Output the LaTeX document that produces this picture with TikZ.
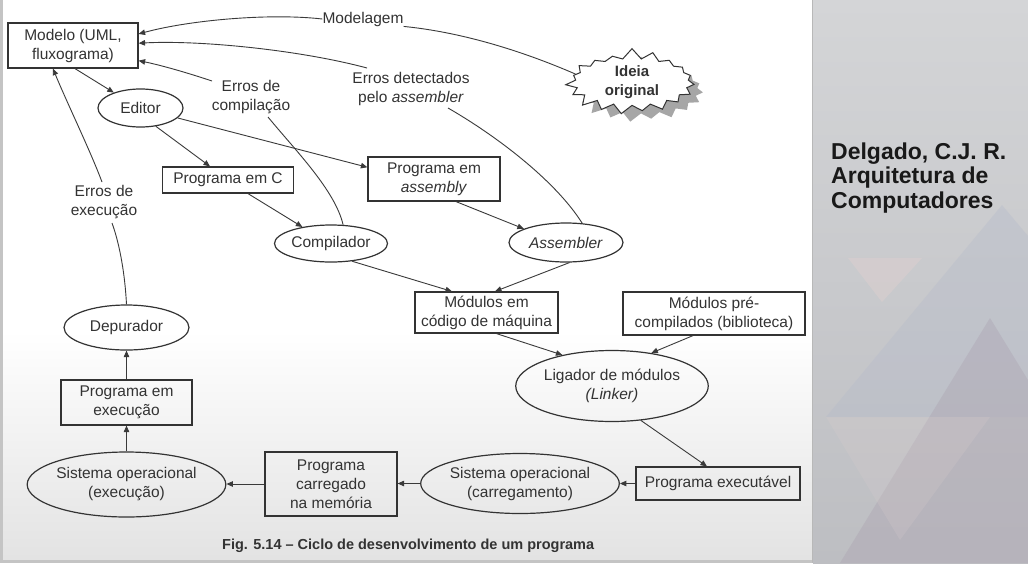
\documentclass[tikz,border=0pt]{standalone}
\usepackage{fontspec}
\setmainfont{Liberation Sans}
\usetikzlibrary{arrows.meta,shapes.geometric,shapes.symbols,shadows}
\definecolor{inkc}{HTML}{333333}
\definecolor{linec}{HTML}{3A3A3A}
\definecolor{framec}{HTML}{C4C4C4}
\definecolor{paneltop}{HTML}{D4D5D7}
\definecolor{panelbot}{HTML}{BDBEC2}
\definecolor{tripink}{HTML}{DCCFCF}
\definecolor{triblue}{HTML}{B4BACA}
\definecolor{tripurp}{HTML}{A99FAE}
\begin{document}
\begin{tikzpicture}[x=1pt,y=-1pt,
  txt/.style={font=\fontsize{15.5}{19}\selectfont, text=inkc, align=center, inner sep=0pt},
  box/.style={txt, draw=inkc, line width=1.2pt, rectangle},
  ell/.style={txt, draw=inkc, line width=1.2pt, ellipse},
  lbl/.style={txt},
  arr/.style={draw=linec, line width=0.9pt, -{Triangle[length=6.5pt,width=5.5pt]}},
  ln/.style={draw=linec, line width=0.9pt},
]
\useasboundingbox (0,0) rectangle (1028,563);
% background
\fill[framec] (0,0) rectangle (1028,563);
\fill[white] (3,0) rectangle (812,330);
\shade[top color=white, bottom color=black!11] (3,330) rectangle (812,559);
\shade[top color=paneltop, bottom color=panelbot] (813,0) rectangle (1028,563);
\begin{scope}
\clip (813,0) rectangle (1028,563);
\fill[triblue, opacity=0.35] (826,417) -- (1002,205) -- (1180,417) -- cycle;
\fill[tripink, opacity=0.55] (848,258) -- (922,258) -- (882,302) -- cycle;
\fill[tripurp, opacity=0.35] (990,318) -- (1140,563) -- (840,563) -- cycle;
\fill[tripink, opacity=0.2] (826,417) -- (990,417) -- (900,540) -- cycle;
\end{scope}
\draw[black!28, line width=1.5pt] (812.5,0) -- (812.5,563);

% nodes
\node[box, minimum width=130pt, minimum height=45pt] (modelo) at (73,45.5) {Modelo (UML,\\fluxograma)};
\node[ell, minimum width=85pt, minimum height=38pt] (editor) at (140.5,108) {Editor};
\node[box, minimum width=131pt, minimum height=26pt] (progc) at (228,180) {Programa em C};
\node[box, minimum width=132pt, minimum height=44pt] (asm) at (434,179) {Programa em\\\textit{assembly}};
\node[ell, minimum width=113pt, minimum height=37pt] (comp) at (331,243.5) {Compilador};
\node[ell, minimum width=114pt, minimum height=39pt] (assem) at (566,242.5) {\textit{Assembler}};
\node[box, minimum width=143pt, minimum height=41pt] (modc) at (486.5,312.5) {Módulos em\\código de máquina};
\node[box, minimum width=182pt, minimum height=43pt] (pre) at (714,313.5) {Módulos pré-\\compilados (biblioteca)};
\node[ell, minimum width=170pt, minimum height=71pt] (lig) at (612,386) {Ligador de módulos\\\textit{(Linker)}};
\node[box, minimum width=164pt, minimum height=33pt] (exe) at (718,483.5) {Programa executável};
\node[ell, minimum width=161pt, minimum height=60pt] (soc) at (520,483.5) {Sistema operacional\\(carregamento)};
\node[box, minimum width=132pt, minimum height=64pt] (pcm) at (331,484) {Programa\\carregado\\na memória};
\node[ell, minimum width=153pt, minimum height=65pt] (soe) at (126.5,484.5) {Sistema operacional\\(execução)};
\node[box, minimum width=131pt, minimum height=45pt] (pex) at (126.5,402.5) {Programa em\\execução};
\node[ell, minimum width=125pt, minimum height=45pt] (dep) at (126.5,327.5) {Depurador};

\node[starburst, starburst points=19, starburst point height=11pt, random starburst=7,
      minimum width=135pt, minimum height=52pt, draw=inkc, fill=white, line width=1pt,
      drop shadow={shadow xshift=9pt, shadow yshift=-8pt, fill=black!35, opacity=1},
      font=\bfseries\fontsize{15}{19}\selectfont, text=inkc, align=center, inner sep=0pt]
      (idea) at (632,82) {Ideia\\original};

% labels
\node[lbl] (mdlg) at (363,19) {Modelagem};
\node[lbl] (ec) at (251,97.5) {Erros de\\compilação};
\node[lbl] (ed) at (411,89) {Erros detectados\\pelo \textit{assembler}};
\node[lbl] (ee) at (104,202.5) {Erros de\\execução};
\coordinate (ee1) at (112,223);
\coordinate (ee2) at (102,182);
\coordinate (ec1) at (212,81);
\coordinate (ec2) at (268,117);
\coordinate (ed1) at (367,68);
\coordinate (ed2) at (448,108);

\node[font=\bfseries\fontsize{14.5}{16}\selectfont, text=inkc, anchor=west, inner sep=0pt] (cap) at (222,546) {Fig. 5.14 – Ciclo de desenvolvimento de um programa};
\node[font=\bfseries\fontsize{23}{24.5}\selectfont, text=black!90, align=left, anchor=north west, inner sep=0pt] (ref) at (831,142.5) {Delgado, C.J. R.\\Arquitetura de\\Computadores};

% connectors
\draw[arr] ([xshift=2pt]modelo.south) -- (editor.150);
\draw[arr] (editor.-50) -- ([xshift=-18pt]progc.north);
\draw[arr] (editor.-15) -- (asm.170);
\draw[arr] ([xshift=20pt]progc.south) -- (comp.150);
\draw[arr] ([xshift=22pt]asm.south) -- (assem.162);
\draw[arr] (comp.-40) -- ([xshift=-34.5pt]modc.north);
\draw[arr] (assem.-80) -- ([xshift=8.5pt]modc.north);
\draw[arr] ([xshift=10pt]modc.south) -- (lig.148);
\draw[arr] ([xshift=-21pt]pre.south) -- (lig.40);
\draw[arr] (lig.-50) -- ([xshift=-11pt]exe.north);
\draw[arr] (exe.west) -- (exe.west -| soc.east);
\draw[arr] (soc.west) -- (soc.west -| pcm.east);
\draw[arr] (pcm.west) -- (pcm.west -| soe.east);
\draw[arr] (soe.north) -- (pex.south);
\draw[arr] (pex.north) -- (dep.south);

% feedback curves
\draw[ln] (dep.north) .. controls (125,275) and (120,245) .. (ee1);
\draw[arr] (ee2) .. controls (90,150) and (68,105) .. (modelo.-131);
\draw[arr] (ec1) .. controls (185,72) and (160,65) .. (modelo.-13);
\draw[ln] (comp.57) .. controls (335,190) and (295,150) .. (ec2);
\draw[arr] (ed1) .. controls (300,50) and (200,40) .. (modelo.2);
\draw[ln] (assem.50) .. controls (555,180) and (495,135) .. (ed2);
\draw[arr] (mdlg.west) .. controls (270,13) and (190,20) .. (modelo.10);
\draw[ln] (mdlg.south east) .. controls (460,32) and (520,50) .. (idea.172);
\end{tikzpicture}
\end{document}
